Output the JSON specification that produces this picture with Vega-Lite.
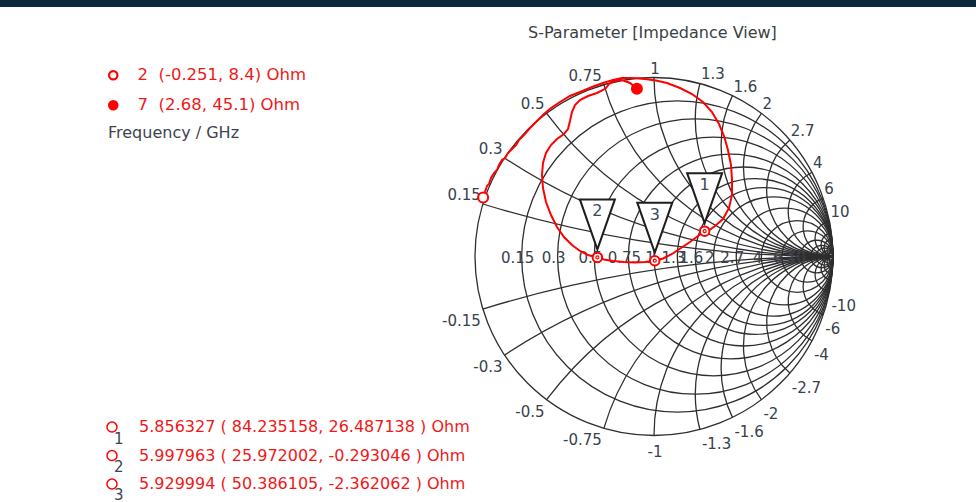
{
  "$schema": "https://vega.github.io/schema/vega-lite/v6.json",
  "width": 976,
  "height": 502,
  "autosize": {"type": "fit", "contains": "padding"},
  "padding": {"top": 7, "left": 0, "right": 0, "bottom": 0},
  "background": "#0b2b3c",
  "view": {"fill": "#ffffff", "stroke": null},
  "config": {"font": "DejaVu Sans", "text": {"font": "DejaVu Sans"}},
  "title": {"text": "S-Parameter [Impedance View]", "frame": "group", "anchor": "start", "dx": 528, "offset": -34, "fontSize": 16, "fontWeight": "normal", "color": "#3a3f45", "font": "DejaVu Sans"},
  "datasets": {
    "grid": [
      {"kind": "r", "v": 0}, {"kind": "r", "v": 0.15}, {"kind": "r", "v": 0.3}, {"kind": "r", "v": 0.5}, {"kind": "r", "v": 0.75}, {"kind": "r", "v": 1}, {"kind": "r", "v": 1.3}, {"kind": "r", "v": 1.6}, {"kind": "r", "v": 2}, {"kind": "r", "v": 2.7}, {"kind": "r", "v": 4}, {"kind": "r", "v": 6}, {"kind": "r", "v": 10},
      {"kind": "r", "v": 15}, {"kind": "r", "v": 20}, {"kind": "r", "v": 30}, {"kind": "r", "v": 50},
      {"kind": "x", "v": 0.15}, {"kind": "x", "v": 0.3}, {"kind": "x", "v": 0.5}, {"kind": "x", "v": 0.75}, {"kind": "x", "v": 1}, {"kind": "x", "v": 1.3}, {"kind": "x", "v": 1.6}, {"kind": "x", "v": 2}, {"kind": "x", "v": 2.7}, {"kind": "x", "v": 4}, {"kind": "x", "v": 6}, {"kind": "x", "v": 10},
      {"kind": "x", "v": 15}, {"kind": "x", "v": 20}, {"kind": "x", "v": 30}, {"kind": "x", "v": 50},
      {"kind": "x", "v": -0.15}, {"kind": "x", "v": -0.3}, {"kind": "x", "v": -0.5}, {"kind": "x", "v": -0.75}, {"kind": "x", "v": -1}, {"kind": "x", "v": -1.3}, {"kind": "x", "v": -1.6}, {"kind": "x", "v": -2}, {"kind": "x", "v": -2.7}, {"kind": "x", "v": -4}, {"kind": "x", "v": -6}, {"kind": "x", "v": -10},
      {"kind": "x", "v": -15}, {"kind": "x", "v": -20}, {"kind": "x", "v": -30}, {"kind": "x", "v": -50}
    ],
    "trace": [
      {"k": 1, "re": -0.9544, "im": 0.33}, {"k": 2, "re": -0.9441, "im": 0.3603}, {"k": 3, "re": -0.933, "im": 0.3939}, {"k": 4, "re": -0.9218, "im": 0.405}, {"k": 5, "re": -0.9106, "im": 0.4385},
      {"k": 6, "re": -0.8939, "im": 0.4665}, {"k": 7, "re": -0.8771, "im": 0.4832}, {"k": 8, "re": -0.8659, "im": 0.5112}, {"k": 9, "re": -0.8492, "im": 0.5391}, {"k": 10, "re": -0.8324, "im": 0.5503},
      {"k": 11, "re": -0.8156, "im": 0.5782}, {"k": 12, "re": -0.7933, "im": 0.6006}, {"k": 13, "re": -0.7709, "im": 0.6229}, {"k": 14, "re": -0.7542, "im": 0.6508}, {"k": 15, "re": -0.7263, "im": 0.6788},
      {"k": 16, "re": -0.6927, "im": 0.7179}, {"k": 17, "re": -0.6536, "im": 0.757}, {"k": 18, "re": -0.6145, "im": 0.7961}, {"k": 19, "re": -0.5754, "im": 0.8296}, {"k": 20, "re": -0.5251, "im": 0.8631},
      {"k": 21, "re": -0.4693, "im": 0.8966}, {"k": 22, "re": -0.4134, "im": 0.919}, {"k": 23, "re": -0.3464, "im": 0.9469}, {"k": 24, "re": -0.2849, "im": 0.9693}, {"k": 25, "re": -0.2291, "im": 0.986},
      {"k": 26, "re": -0.1788, "im": 0.9972}, {"k": 27, "re": -0.1229, "im": 0.9972}, {"k": 28, "re": -0.0503, "im": 0.9916}, {"k": 29, "re": 0.0112, "im": 0.9832}, {"k": 30, "re": 0.0726, "im": 0.9693},
      {"k": 31, "re": 0.1453, "im": 0.9413}, {"k": 32, "re": 0.2123, "im": 0.9078}, {"k": 33, "re": 0.2737, "im": 0.8631}, {"k": 34, "re": 0.324, "im": 0.8073}, {"k": 35, "re": 0.3631, "im": 0.7402},
      {"k": 36, "re": 0.3911, "im": 0.6732}, {"k": 37, "re": 0.4134, "im": 0.595}, {"k": 38, "re": 0.4302, "im": 0.5112}, {"k": 39, "re": 0.4358, "im": 0.4274}, {"k": 40, "re": 0.4358, "im": 0.3436},
      {"k": 41, "re": 0.419, "im": 0.2709}, {"k": 42, "re": 0.3855, "im": 0.2095}, {"k": 43, "re": 0.3408, "im": 0.1704}, {"k": 44, "re": 0.3128, "im": 0.1508}, {"k": 45, "re": 0.283, "im": 0.1415},
      {"k": 46, "re": 0.2458, "im": 0.1145}, {"k": 47, "re": 0.2011, "im": 0.081}, {"k": 48, "re": 0.1508, "im": 0.0475}, {"k": 49, "re": 0.1006, "im": 0.014}, {"k": 50, "re": 0.0503, "im": -0.0112},
      {"k": 51, "re": 0.0044, "im": -0.0234}, {"k": 52, "re": -0.0503, "im": -0.0307}, {"k": 53, "re": -0.1061, "im": -0.0335}, {"k": 54, "re": -0.1676, "im": -0.0307}, {"k": 55, "re": -0.2291, "im": -0.0251},
      {"k": 56, "re": -0.2793, "im": -0.0168}, {"k": 57, "re": -0.3162, "im": -0.0051}, {"k": 58, "re": -0.3687, "im": 0.0084}, {"k": 59, "re": -0.4134, "im": 0.0307}, {"k": 60, "re": -0.4581, "im": 0.0642},
      {"k": 61, "re": -0.5028, "im": 0.1089}, {"k": 62, "re": -0.5419, "im": 0.1648}, {"k": 63, "re": -0.5754, "im": 0.2318}, {"k": 64, "re": -0.6034, "im": 0.3045}, {"k": 65, "re": -0.6201, "im": 0.3827},
      {"k": 66, "re": -0.6257, "im": 0.4553}, {"k": 67, "re": -0.6201, "im": 0.5223}, {"k": 68, "re": -0.6034, "im": 0.5782}, {"k": 69, "re": -0.5754, "im": 0.6229}, {"k": 70, "re": -0.5419, "im": 0.6564},
      {"k": 71, "re": -0.5028, "im": 0.6844}, {"k": 72, "re": -0.4804, "im": 0.7123}, {"k": 73, "re": -0.4693, "im": 0.757}, {"k": 74, "re": -0.4581, "im": 0.8073}, {"k": 75, "re": -0.4413, "im": 0.8464},
      {"k": 76, "re": -0.4134, "im": 0.8743}, {"k": 77, "re": -0.3687, "im": 0.8966}, {"k": 78, "re": -0.3184, "im": 0.9134}, {"k": 79, "re": -0.2849, "im": 0.9302}, {"k": 80, "re": -0.2682, "im": 0.9413},
      {"k": 81, "re": -0.2514, "im": 0.9637}, {"k": 82, "re": -0.2235, "im": 0.9804}, {"k": 83, "re": -0.1788, "im": 0.986}, {"k": 84, "re": -0.1341, "im": 0.9693}, {"k": 85, "re": -0.0954, "im": 0.9378}
    ],
    "ends": [
      {"f": 2, "R": -0.251, "X": 8.4},
      {"f": 7, "R": 2.68, "X": 45.1}
    ],
    "markers": [
      {"id": 1, "f": 5.856327, "R": 84.235158, "X": 26.487138},
      {"id": 2, "f": 5.997963, "R": 25.972002, "X": -0.293046},
      {"id": 3, "f": 5.929994, "R": 50.386105, "X": -2.362062}
    ]
  },
  "layer": [
    {
      "data": {"name": "grid"},
      "transform": [
        {"calculate": "datum.kind == 'r' ? datum.v/(datum.v+1) : 1", "as": "cx"},
        {"calculate": "datum.kind == 'r' ? 0 : 1/datum.v", "as": "cy"},
        {"calculate": "datum.kind == 'r' ? 1/(datum.v+1) : 1/abs(datum.v)", "as": "rho"},
        {"calculate": "datum.kind == 'r' ? 0 : (datum.v > 0 ? PI : 0)", "as": "t1"},
        {"calculate": "datum.kind == 'r' ? 2*PI : (datum.v > 0 ? atan2(-2*datum.v, datum.v*datum.v-1) + 2*PI : -PI - atan2(2*datum.v, datum.v*datum.v-1))", "as": "t2"}
      ],
      "mark": {"type": "arc", "filled": false, "stroke": "#2e2e2e", "strokeWidth": 1.3},
      "encoding": {
        "x": {"field": "cx", "type": "quantitative", "scale": {"domain": [-3.6536, 1.7989], "nice": false, "zero": false}, "axis": null},
        "y": {"field": "cy", "type": "quantitative", "scale": {"domain": [-1.3715, 1.3939], "nice": false, "zero": false}, "axis": null},
        "theta": {"field": "t1", "type": "quantitative", "scale": null, "stack": null},
        "theta2": {"field": "t2"},
        "radius": {"field": "rho", "type": "quantitative", "scale": {"type": "linear", "domain": [0, 1], "range": [0, 179]}},
        "radius2": {"field": "rho"}
      }
    },
    {
      "mark": {"type": "rule", "stroke": "#222222", "strokeWidth": 1.4},
      "encoding": {
        "x": {"datum": -1, "type": "quantitative", "scale": {"domain": [-3.6536, 1.7989], "nice": false, "zero": false}, "axis": null},
        "x2": {"datum": 1},
        "y": {"datum": 0, "type": "quantitative", "scale": {"domain": [-1.3715, 1.3939], "nice": false, "zero": false}, "axis": null}
      }
    },
    {
      "data": {"name": "grid"},
      "transform": [
        {"filter": "datum.kind == 'x' && abs(datum.v) <= 10"},
        {"calculate": "(datum.v*datum.v-1)/(datum.v*datum.v+1)", "as": "lx"},
        {"calculate": "2*datum.v/(datum.v*datum.v+1)", "as": "ly"},
        {"calculate": "'' + datum.v", "as": "lab"}
      ],
      "encoding": {
        "x": {"field": "lx", "type": "quantitative", "scale": {"domain": [-3.6536, 1.7989], "nice": false, "zero": false}, "axis": null},
        "y": {"field": "ly", "type": "quantitative", "scale": {"domain": [-1.3715, 1.3939], "nice": false, "zero": false}, "axis": null},
        "text": {"field": "lab", "type": "nominal"}
      },
      "layer": [
        {"transform": [{"filter": "datum.v > 0 && datum.v < 1"}], "mark": {"type": "text", "align": "right", "baseline": "alphabetic", "dx": -2, "dy": -4, "fontSize": 15, "fill": "#37424d"}},
        {"transform": [{"filter": "datum.v == 1"}], "mark": {"type": "text", "align": "center", "baseline": "alphabetic", "dx": 1, "dy": -4, "fontSize": 15, "fill": "#37424d"}},
        {"transform": [{"filter": "datum.v > 1"}], "mark": {"type": "text", "align": "left", "baseline": "alphabetic", "dx": 1, "dy": -4, "fontSize": 15, "fill": "#37424d"}},
        {"transform": [{"filter": "datum.v < 0 && datum.v > -1"}], "mark": {"type": "text", "align": "right", "baseline": "alphabetic", "dx": -2, "dy": 17, "fontSize": 15, "fill": "#37424d"}},
        {"transform": [{"filter": "datum.v == -1"}], "mark": {"type": "text", "align": "center", "baseline": "alphabetic", "dx": 1, "dy": 21, "fontSize": 15, "fill": "#37424d"}},
        {"transform": [{"filter": "datum.v < -1"}], "mark": {"type": "text", "align": "left", "baseline": "alphabetic", "dx": 2, "dy": 19.5, "fontSize": 15, "fill": "#37424d"}}
      ]
    },
    {
      "data": {"name": "grid"},
      "transform": [
        {"filter": "datum.kind == 'r' && datum.v > 0 && datum.v <= 10"},
        {"calculate": "(datum.v-1)/(datum.v+1)", "as": "ax"},
        {"calculate": "0", "as": "ay"},
        {"calculate": "'' + datum.v", "as": "lab"}
      ],
      "mark": {"type": "text", "align": "center", "baseline": "middle", "dx": -4, "dy": 1, "fontSize": 15, "fill": "#37424d"},
      "encoding": {
        "x": {"field": "ax", "type": "quantitative", "scale": {"domain": [-3.6536, 1.7989], "nice": false, "zero": false}, "axis": null},
        "y": {"field": "ay", "type": "quantitative", "scale": {"domain": [-1.3715, 1.3939], "nice": false, "zero": false}, "axis": null},
        "text": {"field": "lab", "type": "nominal"}
      }
    },
    {
      "data": {"name": "trace"},
      "mark": {"type": "line", "stroke": "#ff0000", "strokeWidth": 2},
      "encoding": {
        "x": {"field": "re", "type": "quantitative", "scale": {"domain": [-3.6536, 1.7989], "nice": false, "zero": false}, "axis": null},
        "y": {"field": "im", "type": "quantitative", "scale": {"domain": [-1.3715, 1.3939], "nice": false, "zero": false}, "axis": null},
        "order": {"field": "k", "type": "quantitative"}
      }
    },
    {
      "data": {"name": "markers"},
      "transform": [
        {"calculate": "datum.R/50", "as": "zr"},
        {"calculate": "datum.X/50", "as": "zi"},
        {"calculate": "(datum.zr+1)*(datum.zr+1) + datum.zi*datum.zi", "as": "den"},
        {"calculate": "(datum.zr*datum.zr + datum.zi*datum.zi - 1)/datum.den", "as": "gre"},
        {"calculate": "2*datum.zi/datum.den", "as": "gim"},
        {"calculate": "'' + datum.f + ' ( ' + datum.R + ', ' + datum.X + ' ) Ohm'", "as": "readout"}
      ],
      "encoding": {
        "x": {"field": "gre", "type": "quantitative", "scale": {"domain": [-3.6536, 1.7989], "nice": false, "zero": false}, "axis": null},
        "y": {"field": "gim", "type": "quantitative", "scale": {"domain": [-1.3715, 1.3939], "nice": false, "zero": false}, "axis": null}
      },
      "layer": [
        {
          "mark": {"type": "point", "shape": "M-0.7,-2.32L0.7,-2.32L0,-0.32Z", "size": 2500, "filled": true, "fill": "#ffffff", "strokeWidth": 2, "opacity": 1},
          "encoding": {
            "stroke": {"field": "id", "type": "nominal", "scale": {"range": ["#1e1e1e", "#1e1e1e", "#1e1e1e"]},
              "legend": {"orient": "none", "legendX": 99, "legendY": 424.5, "direction": "vertical", "title": null, "labelFontSize": 15, "labelColor": "#3b4550", "labelOffset": 0, "symbolSize": 1, "symbolOpacity": 0, "symbolStrokeWidth": 0, "rowPadding": 12, "padding": 0}}
          }
        },
        {
          "mark": {"type": "text", "dy": -46, "fontSize": 16, "fill": "#3a4a5a", "align": "center", "baseline": "middle"},
          "encoding": {"text": {"field": "id", "type": "nominal"}}
        },
        {
          "mark": {"type": "point", "size": 90, "filled": true, "fill": "#ffffff", "stroke": "#ff0000", "strokeWidth": 2, "opacity": 1},
          "encoding": {
            "shape": {"field": "readout", "type": "nominal", "sort": {"field": "id", "op": "min"}, "scale": {"range": ["circle", "circle", "circle"]},
              "legend": {"orient": "none", "legendX": 104, "legendY": 412, "direction": "vertical", "title": null, "labelFontSize": 16, "labelColor": "#f01818", "labelOffset": 19, "labelLimit": 600, "symbolSize": 100, "rowPadding": 12.5, "padding": 0,
                "encode": {"symbols": {"update": {"fill": {"value": "#ffffff"}, "stroke": {"value": "#ff0000"}, "strokeWidth": {"value": 2.5}, "size": {"value": 100}, "opacity": {"value": 1}}}}}}
          }
        },
        {
          "mark": {"type": "point", "shape": "circle", "size": 9, "filled": false, "stroke": "#ff0000", "strokeWidth": 1.2, "opacity": 1}
        }
      ]
    },
    {
      "data": {"name": "ends"},
      "transform": [
        {"calculate": "datum.R/50", "as": "zr"},
        {"calculate": "datum.X/50", "as": "zi"},
        {"calculate": "(datum.zr+1)*(datum.zr+1) + datum.zi*datum.zi", "as": "den"},
        {"calculate": "(datum.zr*datum.zr + datum.zi*datum.zi - 1)/datum.den", "as": "gre"},
        {"calculate": "2*datum.zi/datum.den", "as": "gim"},
        {"calculate": "'' + datum.f + '\u00a0\u00a0(' + datum.R + ', ' + datum.X + ') Ohm'", "as": "label"}
      ],
      "mark": {"type": "point", "shape": "circle", "size": 100, "filled": true, "stroke": "#ff0000", "strokeWidth": 2, "opacity": 1},
      "encoding": {
        "x": {"field": "gre", "type": "quantitative", "scale": {"domain": [-3.6536, 1.7989], "nice": false, "zero": false}, "axis": null},
        "y": {"field": "gim", "type": "quantitative", "scale": {"domain": [-1.3715, 1.3939], "nice": false, "zero": false}, "axis": null},
        "fill": {"field": "label", "type": "nominal", "scale": {"range": ["#ffffff", "#ff0000"]},
          "legend": {"orient": "none", "legendX": 108, "legendY": 60, "direction": "vertical", "title": "Frequency / GHz", "titleOrient": "bottom", "titleAnchor": "start", "titleFontSize": 16, "titleFontWeight": "normal", "titleColor": "#3b4550", "titlePadding": 11, "labelFontSize": 16.5, "labelColor": "#f01818", "labelOffset": 16, "labelLimit": 400, "symbolType": "circle", "symbolOffset": -3, "symbolSize": 70, "symbolStrokeColor": "#ff0000", "symbolStrokeWidth": 2.2, "rowPadding": 12, "padding": 0}}
      }
    }
  ]
}
